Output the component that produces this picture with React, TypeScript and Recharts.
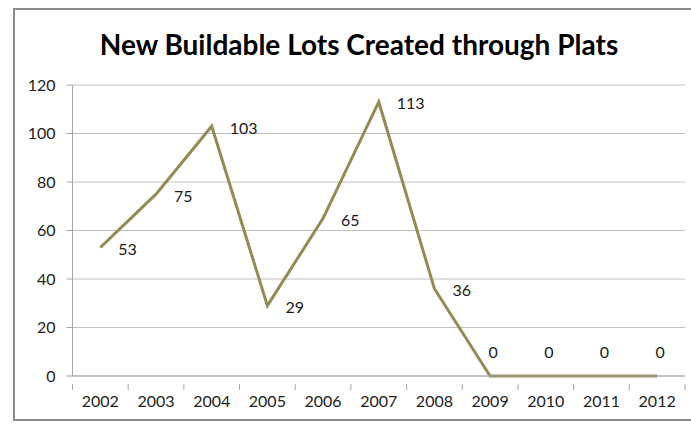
import React from 'react';
import { LineChart, Line, XAxis, YAxis, CartesianGrid, LabelList } from 'recharts';

const years = ['2002', '2003', '2004', '2005', '2006', '2007', '2008', '2009', '2010', '2011', '2012'];
const lots = [53, 75, 103, 29, 65, 113, 36, 0, 0, 0, 0];
const yTicks = [0, 20, 40, 60, 80, 100, 120];

const data = years.map((y, i) => ({ year: y, lots: lots[i] }));

const W = 691;
const H = 425;
const M = { top: 85, right: 6, bottom: 0, left: 0 };
const Y_W = 72.5;
const X_H = 49;
const FONT = 'Lato, "Open Sans", sans-serif';
const LINE = '#948A54';
const AXIS = '#A6A6A6';
const GRID = '#C0C0C0';

const PLOT_W = W - M.left - M.right - Y_W;
const BAND = PLOT_W / years.length;

const XTick = (props: any) => {
  const { x, y, payload, index } = props;
  const left = x - BAND / 2;
  return (
    <g>
      <line x1={left} x2={left} y1={y - 0} y2={y + 6} stroke={AXIS} strokeWidth={1} />
      {index === years.length - 1 && (
        <line x1={x + BAND / 2} x2={x + BAND / 2} y1={y} y2={y + 6} stroke={AXIS} strokeWidth={1} />
      )}
      <text x={x} y={y + 16} textAnchor="middle" dominantBaseline="central" fontFamily={FONT} fontSize={16} fill="#222">
        {payload.value}
      </text>
    </g>
  );
};

const ValueLabel = (props: any) => {
  const { x, y, value } = props;
  if (value === 0) {
    return (
      <text x={x + 3} y={y - 25} textAnchor="middle" dominantBaseline="central" fontFamily={FONT} fontSize={16} fill="#1a1a1a">
        {value}
      </text>
    );
  }
  return (
    <text x={x + 18} y={y + 1} textAnchor="start" dominantBaseline="central" fontFamily={FONT} fontSize={16} fill="#1a1a1a">
      {value}
    </text>
  );
};

export default function App() {
  return (
    <div style={{ position: 'absolute', left: 0, top: 0, width: W, height: H, background: '#fff', overflow: 'hidden' }}>
      <div
        style={{
          position: 'absolute',
          left: 13,
          top: 8,
          width: W - 13,
          height: 413,
          borderTop: '2px solid #8C8C8C',
          borderLeft: '2px solid #8C8C8C',
          borderBottom: '2px solid #8C8C8C',
          boxSizing: 'border-box',
        }}
      />
      <div
        style={{
          position: 'absolute',
          left: 0,
          top: 25,
          width: 718,
          textAlign: 'center',
          fontFamily: FONT,
          fontWeight: 700,
          fontSize: 28,
          color: '#000',
          lineHeight: '38px',
          whiteSpace: 'nowrap',
        }}
      >
        New Buildable Lots Created through Plats
      </div>
      <div style={{ position: 'absolute', left: 0, top: 0 }}>
        <LineChart width={W} height={H} data={data} margin={M}>
          <CartesianGrid horizontal vertical={false} stroke={GRID} strokeWidth={1} />
          <XAxis
            dataKey="year"
            height={X_H}
            axisLine={{ stroke: AXIS }}
            tickLine={false}
            tick={<XTick />}
            interval={0}
            padding={{ left: BAND / 2, right: BAND / 2 }}
          />
          <YAxis
            width={Y_W}
            domain={[0, 120]}
            ticks={yTicks}
            interval={0}
            axisLine={{ stroke: AXIS }}
            tickLine={{ stroke: AXIS }}
            tickSize={6}
            tickMargin={11}
            tick={{ fontFamily: FONT, fontSize: 16, fill: '#222' }}
          />
          <Line
            type="linear"
            dataKey="lots"
            stroke={LINE}
            strokeWidth={3}
            dot={false}
            isAnimationActive={false}
          >
            <LabelList dataKey="lots" content={<ValueLabel />} />
          </Line>
        </LineChart>
      </div>
    </div>
  );
}
